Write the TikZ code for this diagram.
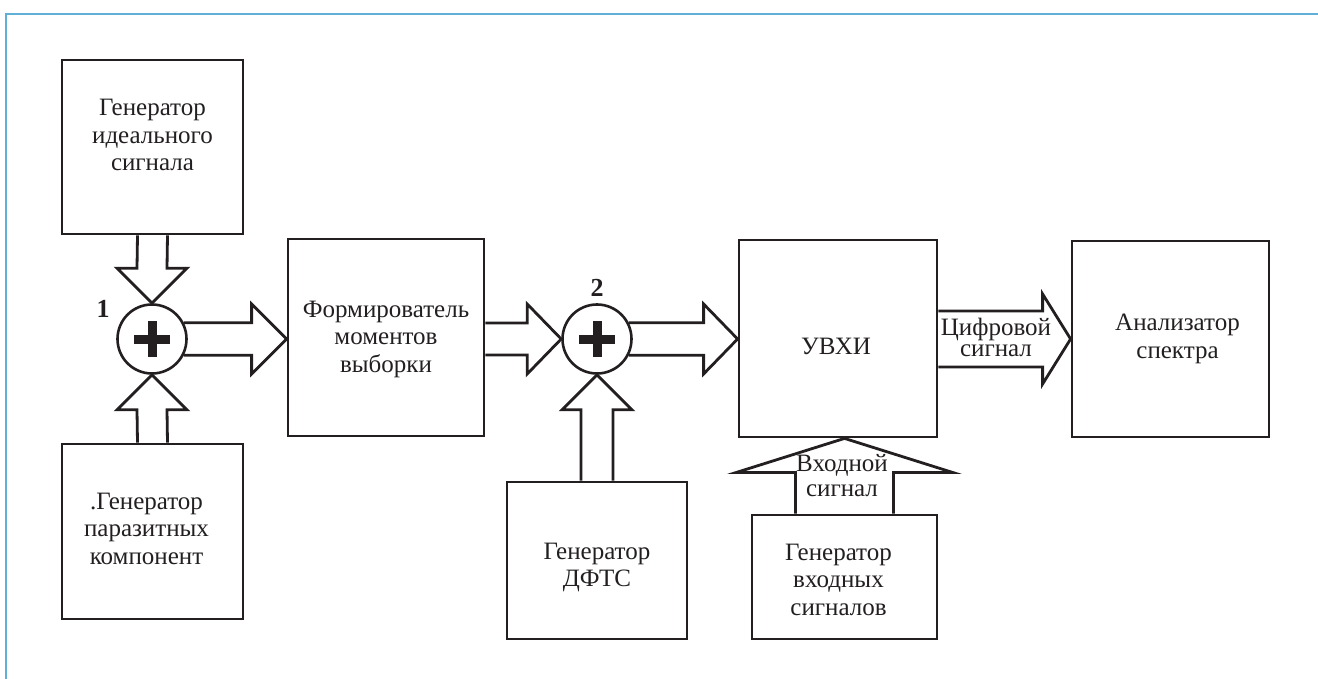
\documentclass[tikz,border=0pt]{standalone}
\usepackage{fontspec}
\setmainfont{Liberation Serif}
\usetikzlibrary{calc}

\definecolor{ink}{RGB}{35,31,32}
\definecolor{frameblue}{RGB}{95,175,215}

\tikzset{
  block/.style={draw=ink, line width=2.8pt, rectangle, inner sep=0pt},
  summer/.style={draw=ink, line width=2.6pt, circle, minimum size=69pt, inner sep=0pt,
    path picture={
      \draw[ink, line width=9pt] ([xshift=-18pt]path picture bounding box.center) -- ([xshift=18pt]path picture bounding box.center);
      \draw[ink, line width=9pt] ([yshift=-18pt]path picture bounding box.center) -- ([yshift=18pt]path picture bounding box.center);
    }},
  fat/.style={draw=ink, line width=2.8pt, line join=miter},
  txt/.style={align=center, text=ink, font=\fontsize{25}{27.5}\selectfont},
  num/.style={text=ink, font=\fontsize{26}{26}\selectfont\bfseries}
}

\begin{document}
\begin{tikzpicture}[x=1pt, y=-1pt]
  \useasboundingbox (0,0) rectangle (1318,679);

  % frame
  \draw[frameblue, line width=1.6pt] (6,679) -- (6,14) -- (1318,14);

  % blocks
  \node[block, minimum width=181pt, minimum height=174pt] (gI) at (152.5,147) {};
  \node[block, minimum width=181pt, minimum height=175pt] (gP) at (152.5,531.5) {};
  \node[block, minimum width=196pt, minimum height=197pt] (fM) at (386,337.5) {};
  \node[block, minimum width=180pt, minimum height=157pt] (gD) at (597,560.5) {};
  \node[block, minimum width=198pt, minimum height=197pt] (uV) at (838,338.5) {};
  \node[block, minimum width=197pt, minimum height=196pt] (aS) at (1170.5,339) {};
  \node[block, minimum width=185pt, minimum height=124pt] (gV) at (844.5,577) {};

  % adders
  \node[summer] (s1) at (152,339) {};
  \node[summer] (s2) at (597,339) {};
  \node[num] (n1) at (103,309) {1};
  \node[num] (n2) at (597,288) {2};

  % names of blocks
  \node[txt] (gI-t) at ($(gI)+(0,-12)$) {Генератор\\идеального\\сигнала};
  \node[txt] (gP-t) at ($(gP)+(-6,-3)$) {.Генератор\\паразитных\\компонент};
  \node[txt] (fM-t) at ($(fM)+(0,1.5)$) {Формирователь\\моментов\\выборки};
  \node[txt] (gD-t) at ($(gD)+(0,7)$) {Генератор\\ДФТС};
  \node[txt] (uV-t) at ($(uV)+(-2,7.5)$) {УВХИ};
  \node[txt] (aS-t) at ($(aS)+(7,0)$) {Анализатор\\спектра};
  \node[txt] (gV-t) at ($(gV)+(-6,2.5)$) {Генератор\\входных\\сигналов};

  % arrows
  \draw[fat] ($(gI.south)+(-15,0)$) -- ($(s1.north)+(-15,-35)$) -- ($(s1.north)+(-35,-35)$) -- (s1.north)
    -- ($(s1.north)+(35,-35)$) -- ($(s1.north)+(15,-35)$) -- ($(gI.south)+(15,0)$);
  \draw[fat] ($(gP.north)+(-15,0)$) -- ($(s1.south)+(-15,35)$) -- ($(s1.south)+(-35,35)$) -- (s1.south)
    -- ($(s1.south)+(35,35)$) -- ($(s1.south)+(15,35)$) -- ($(gP.north)+(15,0)$);
  \draw[fat] (s1.27) -- ($(s1.27 -| fM.west)+(-35,0)$) -- ($(fM.west |- s1)+(-35,-35)$) -- (fM.west |- s1)
    -- ($(fM.west |- s1)+(-35,35)$) -- ($(s1.-27 -| fM.west)+(-35,0)$) -- (s1.-27);
  \draw[fat] ($(fM.east |- s2)+(0,-16)$) -- ($(s2.west)+(-34,-16)$) -- ($(s2.west)+(-34,-35)$) -- (s2.west)
    -- ($(s2.west)+(-34,35)$) -- ($(s2.west)+(-34,16)$) -- ($(fM.east |- s2)+(0,16)$);
  \draw[fat] ($(gD.north)+(-16,0)$) -- ($(s2.south)+(-16,35)$) -- ($(s2.south)+(-35,35)$) -- (s2.south)
    -- ($(s2.south)+(35,35)$) -- ($(s2.south)+(16,35)$) -- ($(gD.north)+(16,0)$);
  \draw[fat] (s2.27) -- ($(s2.27 -| uV.west)+(-34,0)$) -- ($(uV.west |- s2)+(-34,-35)$) -- (uV.west |- s2)
    -- ($(uV.west |- s2)+(-34,35)$) -- ($(s2.-27 -| uV.west)+(-34,0)$) -- (s2.-27);
  \draw[fat] ($(uV.east |- aS)+(0,-28)$) -- ($(aS.west)+(-28,-28)$) -- ($(aS.west)+(-28,-45)$) -- (aS.west)
    -- ($(aS.west)+(-28,45)$) -- ($(aS.west)+(-28,28)$) -- ($(uV.east |- aS)+(0,28)$);
  \draw[fat] ($(gV.north)+(-49,0)$) -- ($(gV.north |- uV.south)+(-49,34)$) -- ($(gV.north |- uV.south)+(-108,34)$)
    -- (gV.north |- uV.south) -- ($(gV.north |- uV.south)+(108,34)$) -- ($(gV.north |- uV.south)+(49,34)$)
    -- ($(gV.north)+(49,0)$);

  % names of arrows
  \node[txt, font=\fontsize{25}{21}\selectfont] (dS) at (996,337.5) {Цифровой\\сигнал};
  \node[txt, font=\fontsize{25}{25}\selectfont] (iS) at (842,475.5) {Входной\\сигнал};

\end{tikzpicture}
\end{document}
